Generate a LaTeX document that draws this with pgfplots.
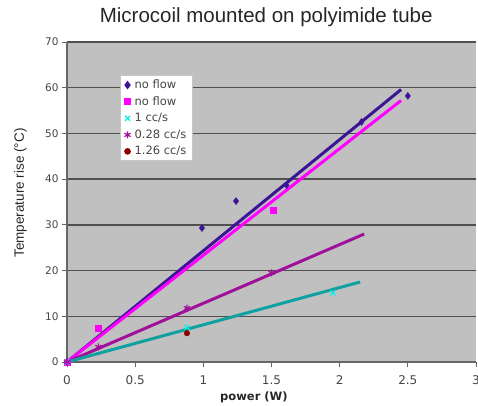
\documentclass[border=0pt]{standalone}
\usepackage{fontspec}
\setmainfont{Liberation Sans}
\newfontfamily\dv{DejaVu Sans}
\usepackage{pgfplots}
\pgfplotsset{compat=1.18}
\definecolor{bg}{RGB}{192,192,192}
\definecolor{nfdark}{RGB}{60,20,150}
\definecolor{mag}{RGB}{255,0,255}
\definecolor{purp}{RGB}{160,16,155}
\definecolor{teal2}{RGB}{16,160,160}
\definecolor{cyan2}{RGB}{0,240,240}
\definecolor{dred}{RGB}{140,0,0}
\definecolor{ticktxt}{RGB}{70,70,70}
\definecolor{gridc}{RGB}{80,80,80}
\begin{document}
\begin{tikzpicture}
\begin{axis}[
  name=ax, at={(0pt,0pt)}, anchor=south west,
  scale only axis, width=409pt, height=320pt,
  xmin=0, xmax=3, ymin=0, ymax=70,
  xtick={0,0.5,1,1.5,2,2.5,3}, ytick={0,10,20,30,40,50,60,70},
  xticklabels={0,0.5,1,1.5,2,2.5,3},
  axis background/.style={fill=bg},
  axis lines=left,
  axis line style={-, draw=gray!80!black, line width=1.2pt},
  ymajorgrids, grid style={draw=gridc, line width=1.4pt},
  tick align=outside, major tick length=5pt,
  tick style={draw=gray!80!black, line width=0.8pt},
  /pgf/number format/assume math mode=true,
  xticklabel style={font=\dv\fontsize{12}{14}\selectfont, text=ticktxt, anchor=base, yshift=-17pt},
  yticklabel style={font=\dv\fontsize{10.5}{12}\selectfont, text=ticktxt},
  title={Microcoil mounted on polyimide tube},
  title style={font=\fontsize{20.5}{24}\selectfont, text=black!85, at={(0.487,1)}, anchor=base, yshift=14pt},
  xlabel={power (W)},
  xlabel style={font=\dv\bfseries\fontsize{11.5}{13}\selectfont, text=black!85, at={(0.457,0)}, anchor=base, yshift=-38pt},
  legend style={at={(0.1296,0.897)}, anchor=north west, fill=white, draw=gray!45, line width=1pt,
    font=\dv\fontsize{11.5}{13}\selectfont, text=ticktxt, row sep=2.5pt, inner xsep=4pt, inner ysep=2.5pt,
    /tikz/every odd column/.append style={column sep=2pt}},
  legend cell align=left,
  legend image code/.code={\draw[mark repeat=1,#1] plot coordinates {(0pt,0pt)};},
]
% trend lines
\addplot[forget plot, nfdark, line width=3pt] coordinates {(0,0) (2.45,59.6)};
\addplot[forget plot, mag, line width=3pt] coordinates {(0,0) (2.45,57.2)};
\addplot[forget plot, purp, line width=3pt] coordinates {(0,0) (2.18,28.0)};
\addplot[forget plot, teal2, line width=3pt] coordinates {(0,0) (2.15,17.5)};
% data points
\addplot[only marks, mark=diamond*, mark size=3.5pt, color=nfdark] coordinates {
  (0,0) (0.99,29.3) (1.24,35.2) (1.61,38.7) (2.16,52.5) (2.50,58.2)};
\addlegendentry{no flow}
\addplot[only marks, mark=square*, mark size=3pt, color=mag] coordinates {
  (0,0) (0.23,7.4) (1.51,33.3)};
\addlegendentry{no flow}
\addplot[only marks, mark=x, mark size=3.5pt, color=cyan2, line width=1.2pt] coordinates {
  (0,0) (0.88,7.6) (1.95,15.1)};
\addlegendentry{1 cc/s}
\addplot[only marks, mark=asterisk, mark size=3.5pt, color=purp, line width=1.2pt] coordinates {
  (0,0) (0.23,3.3) (0.88,11.8) (1.50,19.5)};
\addlegendentry{0.28 cc/s}
\addplot[only marks, mark=*, mark size=2.8pt, color=dred] coordinates {
  (0.88,6.3)};
\addlegendentry{1.26 cc/s}
\end{axis}
\node[rotate=90, anchor=base, font=\fontsize{13.5}{16}\selectfont, text=black!85] at (-43pt,169pt) {Temperature rise (°C)};
\pgfresetboundingbox
\path (-67pt,-43pt) rectangle (411pt,362pt);
\end{tikzpicture}
\end{document}
